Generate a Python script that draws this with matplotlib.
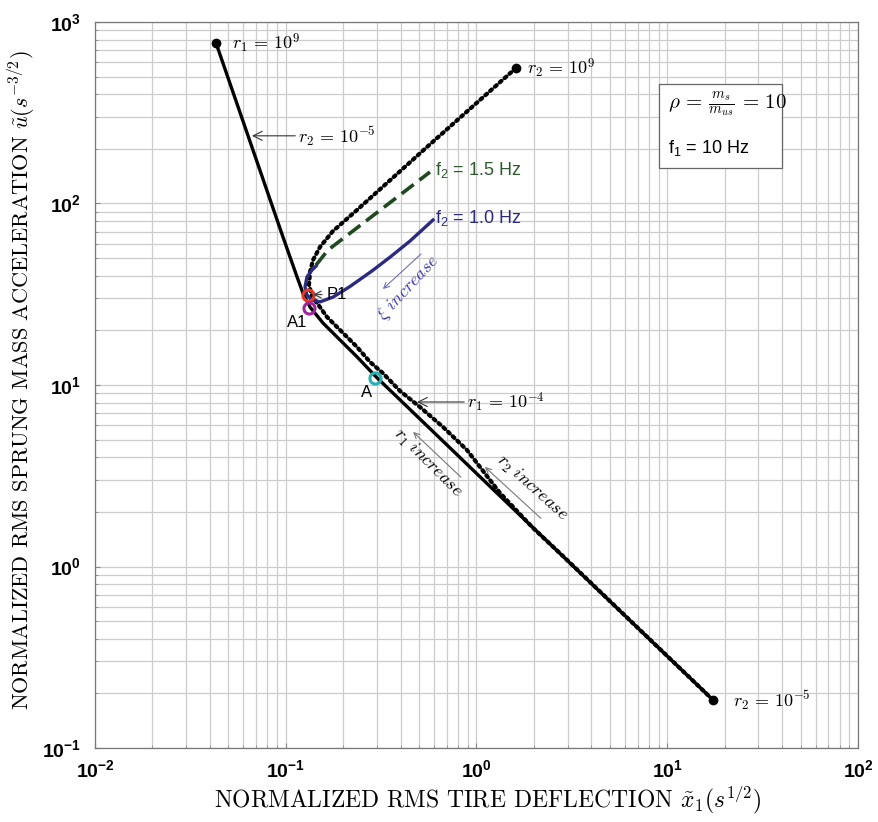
import math
import matplotlib
matplotlib.use("Agg")
import matplotlib.pyplot as plt
import matplotlib.ticker as ticker
from matplotlib.patches import Rectangle

# mathtext: sans for tick labels, computer modern picked per text below
plt.rcParams['mathtext.fontset'] = 'custom'
plt.rcParams['mathtext.rm'] = 'Liberation Sans'
plt.rcParams['mathtext.it'] = 'Liberation Sans:italic'
plt.rcParams['mathtext.bf'] = 'Liberation Sans:bold'
plt.rcParams['font.family'] = 'Liberation Sans'

# r1 sweep (solid black)
x_r1 = [0.0431, 0.0967, 0.1146, 0.1231, 0.1340, 0.1567, 0.1925, 0.2363,
        0.2972, 0.5916, 1.328, 17.37]
y_r1 = [766, 65.4, 39.4, 32.1, 26.9, 21.96, 17.7, 14.3,
        11.1, 5.54, 2.445, 0.184]

# r2 sweep (dotted black)
x_r2 = [1.611, 0.5501, 0.2363, 0.1769, 0.1512, 0.1390, 0.1340,
        0.1324, 0.1373, 0.1459, 0.1645, 0.1925, 0.2363, 0.2764, 0.3235, 0.3972,
        0.5056, 0.6675, 0.8917, 1.082, 1.328, 1.978, 2.842, 17.37]
y_r2 = [557.9, 204.8, 92.1, 70.5, 57.6, 48.8, 41.9,
        35.6, 30.9, 28.3, 23.7, 20.1, 16.2, 13.4, 11.6, 9.27,
        7.56, 5.87, 4.38, 3.36, 2.54, 1.63, 1.14, 0.184]

# damping sweep, f2 = 1.5 Hz (dashed green)
x_f15 = [0.1441, 0.1665, 0.3083, 0.5704]
y_f15 = [45.8, 55.4, 90.9, 149.1]

# damping sweep, f2 = 1.0 Hz (solid blue)
x_f10 = [0.1441, 0.1373, 0.1292, 0.1262, 0.1292, 0.1373, 0.1512, 0.1769,
         0.2172, 0.2832, 0.3520, 0.4480, 0.5916]
y_f10 = [45.2, 43.0, 39.4, 34.7, 31.3, 29.4, 28.7, 30.5,
         34.9, 42.5, 50.6, 62.1, 81.1]

# marked design points
pt_x = [0.131, 0.132, 0.294]
pt_y = [31.3, 26.6, 10.9]
pt_colors = ["#e23a22", "#a0259c", "#27b0b0"]

# sweep end points
end_x = [0.0431, 1.611, 17.37]
end_y = [766, 557.9, 0.184]

fig = plt.figure(figsize=(8.79, 8.22), dpi=100)
ax = fig.add_axes([95/879, 1-748/822, 763/879, 726/822])
ax.set_xscale('log')
ax.set_yscale('log')
ax.set_xlim(1e-2, 1e2)
ax.set_ylim(1e-1, 1e3)

ax.grid(True, which='both', color='#cccccc', lw=0.9)
ax.set_axisbelow(True)
for s in ax.spines.values():
    s.set_color('#777777')
    s.set_linewidth(0.9)

ax.xaxis.set_major_locator(ticker.LogLocator(base=10, numticks=10))
ax.yaxis.set_major_locator(ticker.LogLocator(base=10, numticks=10))
fmt = ticker.FuncFormatter(lambda v, p: r'$\mathbf{10^{%d}}$' % round(math.log10(v)))
ax.xaxis.set_major_formatter(fmt)
ax.yaxis.set_major_formatter(fmt)
ax.tick_params(which='both', direction='in', color='#888888', labelsize=14)
ax.tick_params(axis='x', pad=8)
ax.tick_params(axis='y', pad=10)

ax.plot(x_r1, y_r1, color='black', lw=2.4, solid_capstyle='round', solid_joinstyle='round')
ax.plot(x_r2, y_r2, color='black', lw=3, linestyle=(0, (0.55, 1.0)), dash_capstyle='round')
ax.plot(x_f15, y_f15, color='#1e4a1e', lw=2.6, linestyle=(0, (4.2, 2)))
ax.plot(x_f10, y_f10, color='#2c2a80', lw=2.4, solid_joinstyle='round')
ax.plot(end_x, end_y, 'o', color='black', ms=6)
for px, py, c in zip(pt_x, pt_y, pt_colors):
    ax.plot(px, py, 'o', mfc='none', mec=c, mew=2.2, ms=8)

cm = dict(math_fontfamily='cm', fontsize=13)
arr = dict(arrowstyle='->, head_length=0.5, head_width=0.25', color='#333333',
           lw=0.8, shrinkA=0, shrinkB=0)

ax.text(0.0522, 766, r'$r_1\,=\,10^9$', va='center', **cm)
ax.text(1.84, 558, r'$r_2\,=\,10^9$', va='center', **cm)
ax.text(22.1, 0.184, r'$r_2\,=\,10^{-5}$', va='center', **cm)
ax.annotate(r'$r_2\,=\,10^{-5}$', xy=(0.0665, 236), xytext=(0.116, 236),
            va='center', arrowprops=arr, **cm)
ax.annotate(r'$r_1\,=\,10^{-4}$', xy=(0.488, 8.06), xytext=(0.891, 8.06),
            va='center', arrowprops=arr, **cm)

ax.annotate('P1', xy=(0.139, 31.5), xytext=(0.163, 31.5), va='center',
            fontsize=12, arrowprops=dict(arrowstyle='->', color='#444444', lw=0.9,
                                         shrinkA=1, shrinkB=0))
ax.text(0.115, 22.2, 'A1', ha='center', va='center', fontsize=12)
ax.text(0.264, 9.15, 'A', ha='center', va='center', fontsize=12)

ax.text(0.605, 153, r'f$_2$ = 1.5 Hz', va='center', fontsize=13, color='#2c5a2c')
ax.text(0.605, 83.2, r'f$_2$ = 1.0 Hz', va='center', fontsize=13, color='#2c2a80')

# direction hints along the sweeps
ax.text(0.438, 34.2, r'$\xi\ increase$', rotation=47, ha='center', va='center',
        color='#3a38a0', math_fontfamily='cm', fontsize=13)
ax.annotate('', xy=(0.315, 33.0), xytext=(0.525, 54.0),
            arrowprops=dict(arrowstyle='->', color='#7070b0', lw=0.8))
ax.text(0.551, 3.72, r'$r_1\ increase$', rotation=-45, ha='center', va='center', **cm)
ax.annotate('', xy=(0.454, 5.65), xytext=(0.849, 3.03),
            arrowprops=dict(arrowstyle='->', color='#777777', lw=0.8))
ax.text(1.95, 2.71, r'$r_2\ increase$', rotation=-42, ha='center', va='center', **cm)
ax.annotate('', xy=(1.08, 3.62), xytext=(2.23, 1.80),
            arrowprops=dict(arrowstyle='->', color='#777777', lw=0.8))

# parameter box
ax.add_patch(Rectangle((0.739, 0.799), 0.161, 0.116, transform=ax.transAxes,
                       facecolor='white', edgecolor='#666666', lw=0.9, zorder=3))
ax.text(0.751, 0.886, r'$\rho\,=\,\frac{m_s}{m_{us}}\,=\,\mathbf{10}$', transform=ax.transAxes,
        va='center', math_fontfamily='cm', fontsize=15, zorder=4)
ax.text(0.751, 0.826, r'f$_1$ = 10 Hz', transform=ax.transAxes, va='center',
        fontsize=13, zorder=4)

fig.text(488/879, 1-800/822, r'NORMALIZED RMS TIRE DEFLECTION $\tilde{x}_1(s^{1/2})$',
         ha='center', va='center', family='cmr10', math_fontfamily='cm', fontsize=17)
fig.text(22/879, 1-380/822, r'NORMALIZED RMS SPRUNG MASS ACCELERATION $\tilde{u}(s^{-3/2})$',
         ha='center', va='center', rotation=90, family='cmr10', math_fontfamily='cm',
         fontsize=16)

fig.savefig('out.png', dpi=100)
